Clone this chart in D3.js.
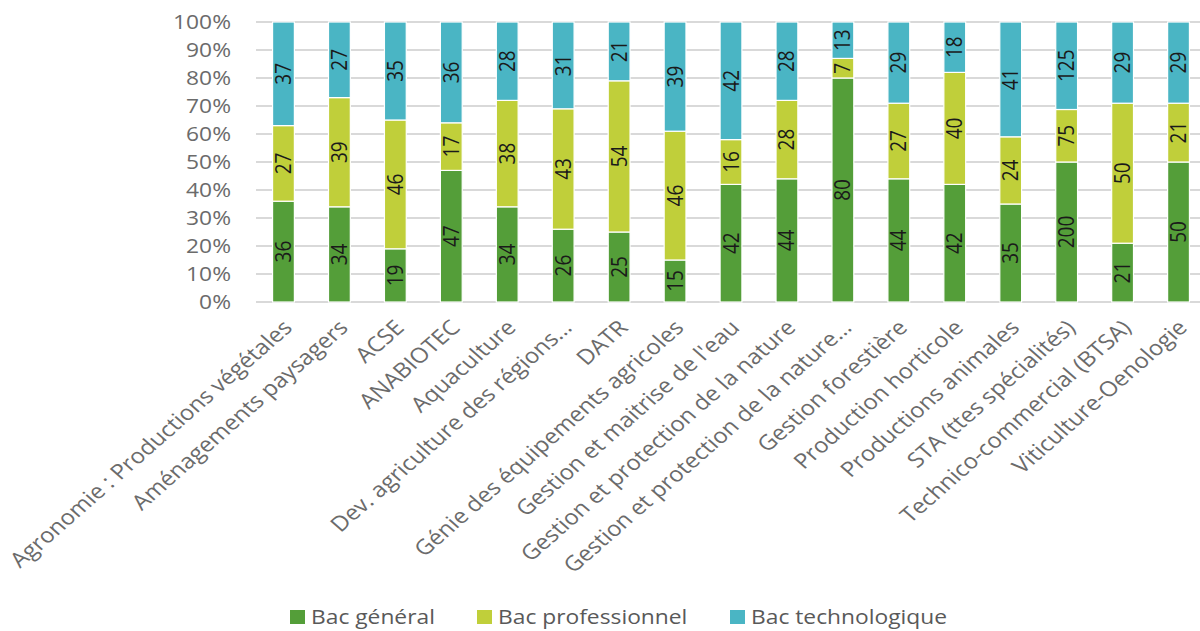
<!DOCTYPE html>
<html><head><meta charset="utf-8">
<script src="https://cdn.jsdelivr.net/npm/d3@7"></script>
<style>
body{margin:0;background:#fff;}
svg{display:block;}
</style></head>
<body>
<svg id="chart" width="1200" height="631"></svg>
<script>
const categories = [
  "Agronomie : Productions végétales",
  "Aménagements paysagers",
  "ACSE",
  "ANABIOTEC",
  "Aquaculture",
  "Dev. agriculture des régions…",
  "DATR",
  "Génie des équipements agricoles",
  "Gestion et maitrise de l'eau",
  "Gestion et protection de la nature",
  "Gestion et protection de la nature…",
  "Gestion forestière",
  "Production horticole",
  "Productions animales",
  "STA (ttes spécialités)",
  "Technico-commercial (BTSA)",
  "Viticulture-Oenologie"
];
const bacGeneral      = [36, 34, 19, 47, 34, 26, 25, 15, 42, 44, 80, 44, 42, 35, 200, 21, 50];
const bacProfessionnel= [27, 39, 46, 17, 38, 43, 54, 46, 16, 28, 7, 27, 40, 24, 75, 50, 21];
const bacTechnologique= [37, 27, 35, 36, 28, 31, 21, 39, 42, 28, 13, 29, 18, 41, 125, 29, 29];
const seriesNames = ["Bac général", "Bac professionnel", "Bac technologique"];
const yTicks = [0, 0.1, 0.2, 0.3, 0.4, 0.5, 0.6, 0.7, 0.8, 0.9, 1.0];

const colors = ["#549E39", "#C0CF3A", "#4AB5C4"];
const seriesValues = [bacGeneral, bacProfessionnel, bacTechnologique];

const rows = categories.map((c, i) => {
  const r = {cat: c};
  seriesNames.forEach((s, k) => r[s] = seriesValues[k][i]);
  return r;
});

const SX = 1.14; // horizontal text stretch seen in the reference
const FONT = "'Open Sans', sans-serif";
const svg = d3.select("#chart");
const plotTop = 22, plotBottom = 302;
const x = d3.scaleBand().domain(categories).range([255.5, 1206.5]).paddingInner(0.61).paddingOuter(0.305);
const y = d3.scaleLinear().domain([0, 1]).range([plotBottom, plotTop]);

const stack = d3.stack().keys(seriesNames).offset(d3.stackOffsetExpand);
const stacked = stack(rows);

// gridlines
svg.append("g").selectAll("line").data(yTicks).join("line")
  .attr("x1", 256).attr("x2", 1200)
  .attr("y1", d => y(d)).attr("y2", d => y(d))
  .attr("stroke", "#D9D9D9").attr("stroke-width", 1.8);

// y axis labels
const yAxis = d3.axisLeft(y).tickValues(yTicks).tickFormat(d3.format(".0%")).tickSize(0).tickPadding(0);
const ya = svg.append("g").attr("transform", `translate(231,0) scale(${SX},1)`).call(yAxis);
ya.select(".domain").remove();
ya.selectAll("text").attr("font-family", FONT).attr("font-size", 20).attr("fill", "#6b6b6b");

// bars
const g = svg.append("g");
stacked.forEach((layer, k) => {
  g.append("g").selectAll("rect").data(layer).join("rect")
    .attr("x", d => x(d.data.cat))
    .attr("width", x.bandwidth())
    .attr("y", d => y(d[1]))
    .attr("height", d => y(d[0]) - y(d[1]))
    .attr("fill", colors[k])
    .attr("stroke", "#fff").attr("stroke-width", 1.2);
});

// data labels
stacked.forEach((layer, k) => {
  g.append("g").selectAll("text").data(layer).join("text")
    .attr("transform", d => `translate(${x(d.data.cat) + x.bandwidth()/2},${(y(d[0]) + y(d[1]))/2}) scale(1.1,1) rotate(-90)`)
    .attr("text-anchor", "middle").attr("dy", "0.36em")
    .attr("font-family", FONT).attr("font-size", 19).attr("fill", "#1a1a1a")
    .text(d => d.data[seriesNames[k]]);
});

// category labels
const xa = svg.append("g").attr("transform", `translate(0,${plotBottom})`)
  .call(d3.axisBottom(x).tickSize(0).tickPadding(0));
xa.select(".domain").remove();
xa.selectAll("text")
  .attr("font-family", FONT).attr("font-size", 21).attr("fill", "#6b6b6b")
  .attr("text-anchor", "end")
  .attr("dy", null).attr("y", null)
  .attr("transform", `translate(10,27) scale(${SX},1) rotate(-45)`);

// legend
const legX = [290, 477, 730];
const leg = svg.append("g");
seriesNames.forEach((s, k) => {
  leg.append("rect").attr("x", legX[k]).attr("y", 610).attr("width", 15).attr("height", 14).attr("fill", colors[k]);
  leg.append("text").attr("transform", `translate(${legX[k] + 21},624) scale(${SX},1)`)
    .attr("font-family", FONT).attr("font-size", 20).attr("fill", "#595959").text(s);
});
</script>
</body></html>
